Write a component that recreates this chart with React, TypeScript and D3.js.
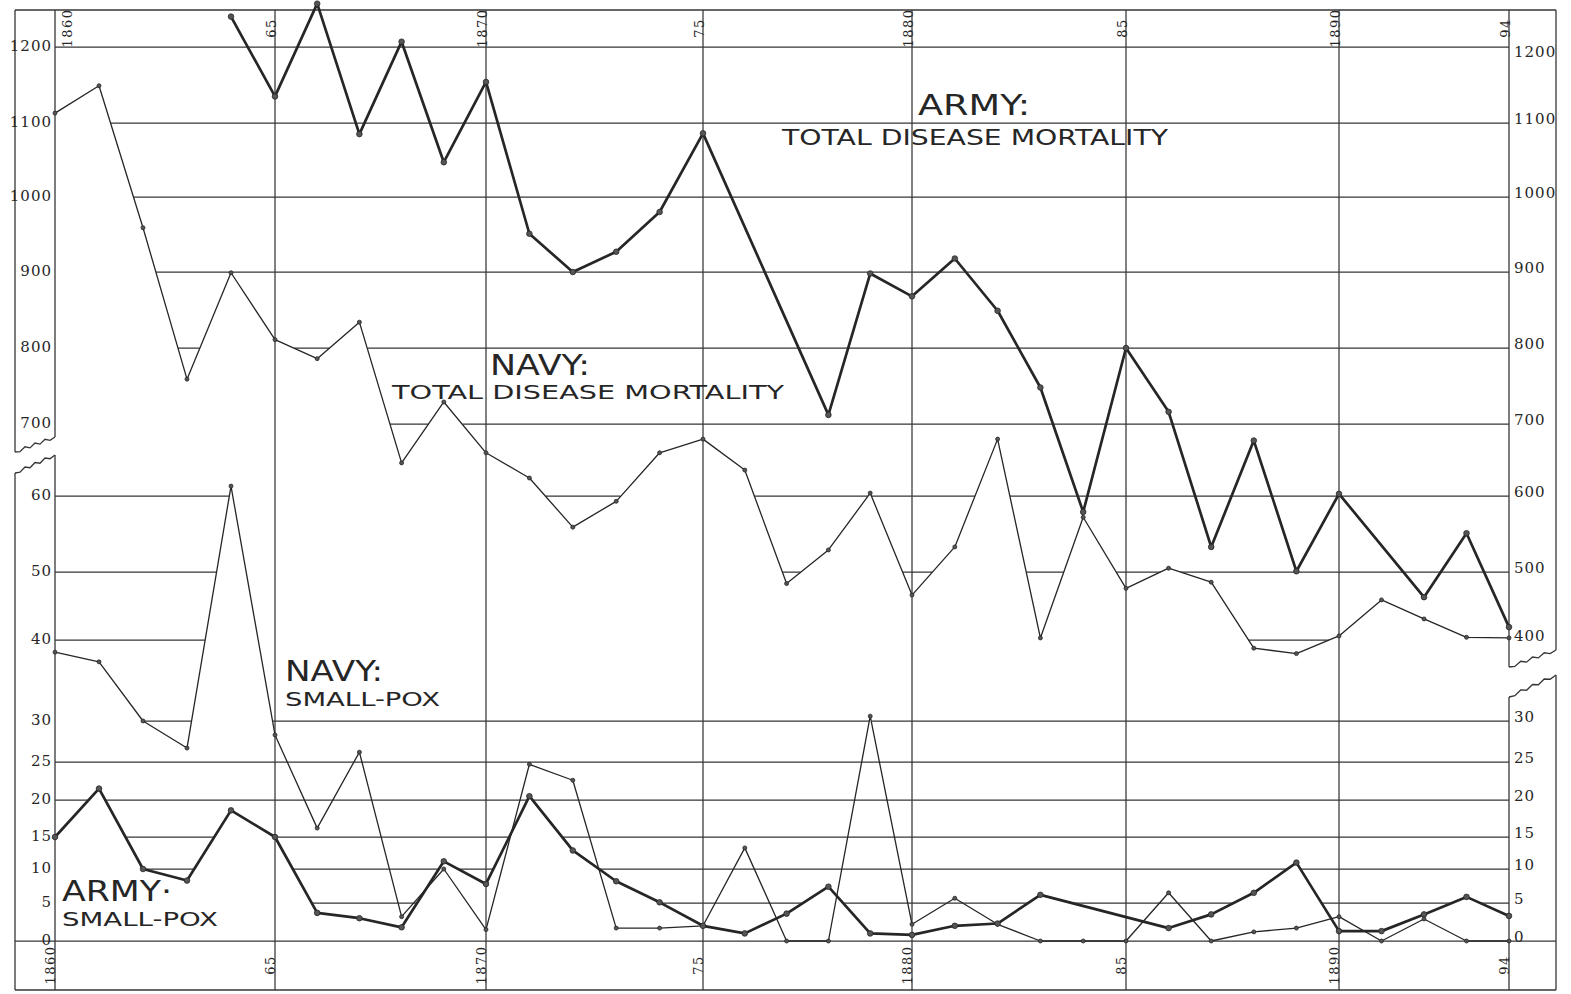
import React from "react";
import * as d3 from "d3";

// ---------- data ----------
const years = [
  1860, 1861, 1862, 1863, 1864, 1865, 1866, 1867, 1868, 1869,
  1870, 1871, 1872, 1873, 1874, 1875, 1876, 1877, 1878, 1879,
  1880, 1881, 1882, 1883, 1884, 1885, 1886, 1887, 1888, 1889,
  1890, 1891, 1892, 1893, 1894,
];

// Army: total disease mortality (null = no point plotted)
const armyTotal: (number | null)[] = [
  null, null, null, null, 1240, 1135, 1257, 1085, 1207, 1047,
  1154, 951, 900, 927, 980, 1086, null, null, 712, 898,
  868, 918, 849, 748, 579, 800, 716, 533, 677, 501,
  603, null, 463, 551, 419,
];

// Navy: total disease mortality
const navyTotal: (number | null)[] = [
  1113, 1149, 959, 759, 899, 811, 786, 834, 646, 729,
  660, 625, 559, 593, 660, 679, 636, 483, 529, 604,
  466, 533, 679, 403, 572, 476, 505, 485, 388, 380,
  406, 459, 431, 404, 403,
];

// Navy: small-pox
const navySmallPox: (number | null)[] = [
  38.5, 37.3, 30, 26.7, 61.3, 28.3, 16.2, 26.2, 3.2, 10,
  1.5, 24.7, 22.6, 1.7, 1.7, 2.0, 13.3, 0, 0, 30.6,
  2.2, 5.7, 2.2, 0, 0, 0, 6.5, 0, 1.2, 1.7,
  3.2, 0, 2.9, 0, 0,
];

// Army: small-pox
const armySmallPox: (number | null)[] = [
  15, 21.5, 10, 8.3, 18.6, 15, 3.7, 3, 1.8, 11.2,
  7.8, 20.5, 12.9, 8.2, 5.1, 2, 1, 3.6, 7.4, 1,
  0.8, 2, 2.3, 6.2, null, null, 1.7, 3.5, 6.5, 11,
  1.3, 1.3, 3.5, 5.9, 3.3,
];

const gridYears = [1865, 1870, 1875, 1880, 1885, 1890];
const yearTickValues = [1860, 1865, 1870, 1875, 1880, 1885, 1890, 1894];
const yearTickLabels = ["1860", "65", "1870", "75", "1880", "85", "1890", "94"];

const mortalityTicks = [1200, 1100, 1000, 900, 800, 700, 600, 500, 400];
const smallPoxTicks = [30, 25, 20, 15, 10, 5, 0];
const leftTickLabels = [
  "1200", "1100", "1000", "900", "800", "700", "60", "50", "40",
  "30", "25", "20", "15", "10", "5", "0",
];
const rightTickLabels = [
  "1200", "1100", "1000", "900", "800", "700", "600", "500", "400",
  "30", "25", "20", "15", "10", "5", "0",
];

// ---------- scales (hand-drawn original: piecewise) ----------
const x = d3
  .scaleLinear()
  .domain([1860, 1865, 1870, 1875, 1880, 1885, 1890, 1894])
  .range([55, 275, 486, 703, 912, 1126, 1339, 1509]);

const yMort = d3
  .scaleLinear()
  .domain([400, 500, 600, 700, 800, 900, 1000, 1100, 1200])
  .range([640, 572, 496, 424, 348, 272, 197, 123, 47]);

const ySP = d3
  .scaleLinear()
  .domain([0, 5, 10, 15, 20, 25, 30, 40, 50, 60])
  .range([941, 903, 869, 837, 800, 762, 721, 640, 572, 496]);

const W = 1571;
const H = 994;
const FRAME_L = 15;
const FRAME_R = 1556;
const FRAME_T = 10;
const FRAME_B = 990;
const X0 = x(1860);
const X1 = x(1894);
const INK = "#262626";
const GRID = "#363636";

type Pt = [number, number];

function toPoints(series: (number | null)[], scale: (v: number) => number): Pt[] {
  const out: Pt[] = [];
  series.forEach((v, i) => {
    if (v != null) out.push([x(years[i]), scale(v)]);
  });
  return out;
}

const armyTotalPts = toPoints(armyTotal, yMort);
const navyTotalPts = toPoints(navyTotal, yMort);
const navySPPts = toPoints(navySmallPox, ySP);
const armySPPts = toPoints(armySmallPox, ySP);

function yAt(points: Pt[], px: number): number | null {
  if (px < points[0][0] || px > points[points.length - 1][0]) return null;
  for (let i = 0; i < points.length - 1; i++) {
    const [ax, ay] = points[i];
    const [bx, by] = points[i + 1];
    if (px >= ax && px <= bx) {
      const t = bx === ax ? 0 : (px - ax) / (bx - ax);
      return ay + (by - ay) * t;
    }
  }
  return null;
}

function visibleSegments(lineY: number, visible: (px: number) => boolean): string {
  let d = "";
  let start: number | null = null;
  const step = 0.5;
  for (let px = X0; px <= X1 + 0.01; px += step) {
    const v = visible(px);
    if (v && start === null) start = px;
    if ((!v || px + step > X1 + 0.01) && start !== null) {
      const end = v ? px : px - step;
      if (end - start > 1.5) d += `M${start.toFixed(1)},${lineY.toFixed(1)}H${end.toFixed(1)}`;
      start = null;
    }
  }
  return d;
}

const x1864 = x(1864);

function gridPath(kind: "mort" | "sp", value: number): string {
  if (kind === "mort") {
    const ly = yMort(value);
    if (value >= 700) {
      return visibleSegments(ly, (px) => {
        const c = yAt(navyTotalPts, px);
        return c == null || c > ly;
      });
    }
    return visibleSegments(ly, (px) => {
      const c = yAt(navyTotalPts, px);
      if (c == null || c > ly) return true;
      if (px <= x1864) {
        const s = yAt(navySPPts, px);
        return s == null || s > ly;
      }
      return false;
    });
  }
  const ly = ySP(value);
  if (value === 0) return `M${FRAME_L},${ly}H${FRAME_R}`;
  if (value >= 30) {
    return visibleSegments(ly, (px) => {
      const s = yAt(navySPPts, px);
      return s == null || s > ly - 0.5;
    });
  }
  return visibleSegments(ly, (px) => {
    const s = yAt(armySPPts, px);
    return s == null || s > ly - 0.5;
  });
}

function wave(x0: number, y0: number, x1: number, y1: number, n = 8, amp = 1.5): string {
  const pts: Pt[] = [];
  for (let i = 0; i <= n; i++) {
    const t = i / n;
    const off = i === 0 || i === n ? 0 : i % 2 ? amp : -amp;
    pts.push([x0 + (x1 - x0) * t, y0 + (y1 - y0) * t + off]);
  }
  return d3.line()(pts) || "";
}

const lineGen = d3.line<Pt>();

type Label = { text: string; x: number; y: number; size: number; len: number };
const seriesLabels: Label[] = [
  { text: "ARMY:", x: 918, y: 115, size: 29, len: 112 },
  { text: "TOTAL DISEASE MORTALITY", x: 782, y: 145, size: 21, len: 386 },
  { text: "NAVY:", x: 490, y: 375, size: 28, len: 100 },
  { text: "TOTAL DISEASE MORTALITY", x: 392, y: 399, size: 20, len: 392 },
  { text: "NAVY:", x: 285, y: 681, size: 28, len: 98 },
  { text: "SMALL-POX", x: 285, y: 706, size: 19, len: 155 },
  { text: "ARMY·", x: 62, y: 901, size: 28, len: 110 },
  { text: "SMALL-POX", x: 62, y: 926, size: 19, len: 156 },
];

export default function App() {
  const leftYs = [
    ...mortalityTicks.map((v) => yMort(v)),
    ...smallPoxTicks.map((v) => ySP(v)),
  ];
  const tickFont = "'DejaVu Serif', serif";
  const labelFont = "'DejaVu Sans', 'Liberation Sans', sans-serif";

  return (
    <svg
      width={W}
      height={H}
      viewBox={`0 0 ${W} ${H}`}
      style={{ position: "absolute", left: 0, top: 0, display: "block", background: "#fff" }}
    >
      <rect x={0} y={0} width={W} height={H} fill="#fff" />

      {/* outer frame */}
      <g stroke={GRID} strokeWidth={1.3} fill="none">
        <path d={`M${FRAME_L},${FRAME_T}H${FRAME_R}`} />
        <path d={`M${FRAME_L},${FRAME_B}H${FRAME_R}`} />
        <path d={`M${FRAME_L},${FRAME_T}V452`} />
        <path d={`M${FRAME_L},473V${FRAME_B}`} />
        <path d={`M${FRAME_R},${FRAME_T}V650`} />
        <path d={`M${FRAME_R},675V${FRAME_B}`} />
        {/* axes */}
        <path d={`M${X0},${FRAME_T}V437`} />
        <path d={`M${X0},455V${FRAME_B}`} />
        <path d={`M${X1},${FRAME_T}V667`} />
        <path d={`M${X1},697V${FRAME_B}`} />
        {/* break marks */}
        <path d={wave(FRAME_L, 452, X0, 437)} />
        <path d={wave(FRAME_L, 473, X0, 455)} />
        <path d={wave(X1, 667, FRAME_R, 650)} />
        <path d={wave(X1, 697, FRAME_R, 675)} />
      </g>

      {/* vertical grid */}
      <g stroke={GRID} strokeWidth={1.25}>
        {gridYears.map((yr) => (
          <line key={yr} x1={x(yr)} x2={x(yr)} y1={FRAME_T} y2={FRAME_B} />
        ))}
      </g>

      {/* horizontal grid */}
      <g stroke={GRID} strokeWidth={1.25} fill="none">
        {mortalityTicks.map((v) => (
          <path key={`m${v}`} d={gridPath("mort", v)} />
        ))}
        {smallPoxTicks.map((v) => (
          <path key={`s${v}`} d={gridPath("sp", v)} />
        ))}
      </g>

      {/* left / right tick labels */}
      <g fontFamily={tickFont} fontSize={15} fill={INK} letterSpacing={1}>
        {leftTickLabels.map((t, i) => (
          <text key={`l${i}`} x={52} y={leftYs[i] - 1} textAnchor="end" dominantBaseline="central">
            {t}
          </text>
        ))}
        {rightTickLabels.map((t, i) => (
          <text key={`r${i}`} x={1514} y={leftYs[i] - (i === 0 ? -5 : 4)} dominantBaseline="central">
            {t}
          </text>
        ))}
      </g>

      {/* year labels top and bottom */}
      <g fontFamily={tickFont} fontSize={13} fill={INK} letterSpacing={1.5}>
        {yearTickValues.map((yr, i) => {
          const bx = i === 0 ? x(yr) + 17 : x(yr) + 1;
          return (
            <text key={`t${yr}`} transform={`translate(${bx},28) rotate(-90)`} textAnchor="middle">
              {yearTickLabels[i]}
            </text>
          );
        })}
        {yearTickValues.map((yr, i) => (
          <text key={`b${yr}`} transform={`translate(${x(yr)},965) rotate(-90)`} textAnchor="middle">
            {yearTickLabels[i]}
          </text>
        ))}
      </g>

      {/* series */}
      <g fill="none" strokeLinejoin="round" strokeLinecap="round">
        <path d={lineGen(navyTotalPts) || ""} stroke={INK} strokeWidth={1.3} />
        <path d={lineGen(navySPPts) || ""} stroke={INK} strokeWidth={1.3} />
        <path d={lineGen(armyTotalPts) || ""} stroke={INK} strokeWidth={2.7} />
        <path d={lineGen(armySPPts) || ""} stroke={INK} strokeWidth={2.7} />
      </g>
      <g fill="#555" stroke={INK} strokeWidth={0.8}>
        {navyTotalPts.map((p, i) => (
          <circle key={`nt${i}`} cx={p[0]} cy={p[1]} r={2} />
        ))}
        {navySPPts.map((p, i) => (
          <circle key={`ns${i}`} cx={p[0]} cy={p[1]} r={2} />
        ))}
        {armyTotalPts.map((p, i) => (
          <circle key={`at${i}`} cx={p[0]} cy={p[1]} r={2.8} />
        ))}
        {armySPPts.map((p, i) => (
          <circle key={`as${i}`} cx={p[0]} cy={p[1]} r={2.8} />
        ))}
      </g>

      {/* series labels */}
      <g fontFamily={labelFont} fill={INK}>
        {seriesLabels.map((l, i) => (
          <text
            key={`lab${i}`}
            x={l.x}
            y={l.y}
            fontSize={l.size}
            textLength={l.len}
            lengthAdjust="spacingAndGlyphs"
          >
            {l.text}
          </text>
        ))}
      </g>
    </svg>
  );
}
